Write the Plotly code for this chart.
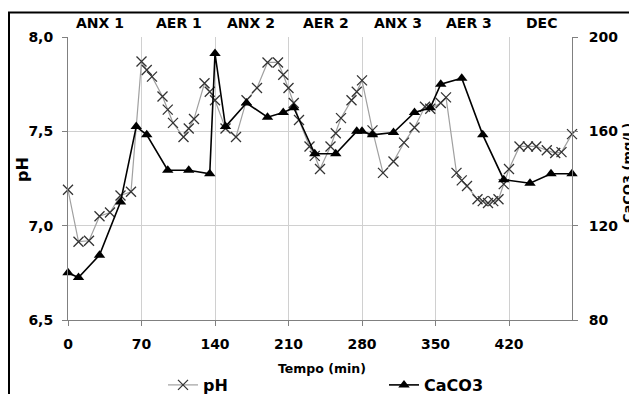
import plotly.graph_objects as go

# ---- data ----
ph_time = [0, 10, 20, 30, 40, 50, 60, 70, 75, 80, 90, 95, 100, 110, 115, 120, 130, 135, 140,
           150, 160, 170, 180, 190, 200, 205, 210, 215, 220, 230, 235, 240, 250, 255, 260, 270,
           275, 280, 290, 300, 310, 320, 330, 340, 345, 355, 360, 370, 375, 380, 390, 395, 400,
           405, 410, 415, 420, 430, 438, 446, 456, 464, 470, 480]
ph_vals = [7.19, 6.915, 6.92, 7.05, 7.07, 7.16, 7.18, 7.87, 7.825, 7.79, 7.685, 7.615, 7.545,
           7.47, 7.515, 7.565, 7.755, 7.71, 7.665,
           7.515, 7.47, 7.665, 7.73, 7.865, 7.865, 7.80, 7.73, 7.65, 7.56, 7.42, 7.37, 7.30,
           7.42, 7.49, 7.57, 7.665, 7.71, 7.77, 7.505, 7.28, 7.34, 7.44, 7.52, 7.63, 7.62,
           7.65, 7.68, 7.28, 7.24, 7.21, 7.14, 7.13, 7.12, 7.13, 7.14, 7.22, 7.30,
           7.42, 7.42, 7.42, 7.40, 7.385, 7.39, 7.485]

caco3_time = [0, 10, 30, 50, 65, 75, 95, 115, 135, 140, 150, 170, 190, 205, 215, 235, 255,
              275, 280, 290, 310, 330, 345, 355, 375, 395, 415, 440, 460, 480]
caco3_vals = [100, 98, 107.5, 130, 162, 158.5, 143.5, 143.5, 142, 193, 162, 172, 166, 168,
              170, 150.5, 150.5, 160, 160, 158.5, 159.5, 168, 170, 180, 182.5, 158.5, 139.5,
              138, 142, 142]

x_ticks = [0, 70, 140, 210, 280, 350, 420]
ph_ticks = [6.5, 7.0, 7.5, 8.0]
caco3_ticks = [80, 120, 160, 200]
phase_labels = ["ANX 1", "AER 1", "ANX 2", "AER 2", "ANX 3", "AER 3", "DEC"]
phase_centers = [30, 106, 174, 246, 314, 382, 451]

FONT = "DejaVu Sans"
AXC = "#808080"
GRID = "#d0d0d0"

fig = go.Figure()
fig.add_trace(go.Scatter(
    x=ph_time, y=ph_vals, name="pH", mode="lines+markers",
    line=dict(color="#a0a0a0", width=1.2),
    marker=dict(symbol="x-thin", size=10, color="#333333",
                line=dict(color="#333333", width=1.3)),
    cliponaxis=False, legend="legend"))
fig.add_trace(go.Scatter(
    x=caco3_time, y=caco3_vals, name="CaCO3", mode="lines+markers", yaxis="y2",
    line=dict(color="#000000", width=1.6),
    marker=dict(symbol="triangle-up", size=10, color="#000000"),
    cliponaxis=False, legend="legend2"))

# page has an 8px body margin: figure is offset by (8, 8) in the window
OFF = 8
W, H = 637 - OFF, 394 - OFF
PL, PR, PT, PB = 68, 572, 37, 320  # plot area in page pixels
L, T = PL - OFF, PT - OFF
R = W - (PR - OFF)
B = H - (PB - OFF)
pw, ph = PR - PL, PB - PT

def px_x(p):
    return (p - PL) / pw

def px_y(p):
    return 1 - (p - PT) / ph

tickfont = dict(family=FONT, size=14, color="#000", weight="bold")

fig.update_layout(
    width=W, height=H,
    margin=dict(l=L, r=R, t=T, b=B, autoexpand=False),
    paper_bgcolor="white", plot_bgcolor="white",
    separators=",.",
    xaxis=dict(range=[0, 480], tickvals=x_ticks, showgrid=True, gridcolor=GRID,
               gridwidth=1, showline=True, linecolor=AXC, linewidth=1,
               ticks="outside", ticklen=5, tickcolor=AXC, tickfont=tickfont,
               zeroline=False, ticklabelstandoff=6),
    yaxis=dict(range=[6.5, 8.0], tickvals=ph_ticks, tickformat=".1f", showgrid=True,
               gridcolor=GRID, gridwidth=1, showline=True, linecolor=AXC, linewidth=1,
               ticks="outside", ticklen=5, tickcolor=AXC, tickfont=tickfont,
               zeroline=False, ticklabelstandoff=6),
    yaxis2=dict(range=[80, 200], tickvals=caco3_ticks, overlaying="y", side="right",
                showgrid=False, showline=True, linecolor=AXC, linewidth=1,
                ticks="outside", ticklen=5, tickcolor=AXC, tickfont=tickfont,
                zeroline=False, ticklabelstandoff=8),
    legend=dict(x=px_x(163), y=px_y(385), xanchor="left", yanchor="middle",
                font=dict(family=FONT, size=16, color="#000", weight="bold"),
                bgcolor="rgba(0,0,0,0)"),
    legend2=dict(x=px_x(384), y=px_y(385), xanchor="left", yanchor="middle",
                 font=dict(family=FONT, size=16, color="#000", weight="bold"),
                 bgcolor="rgba(0,0,0,0)"),
    showlegend=True,
)

ann = []
for lab, c in zip(phase_labels, phase_centers):
    ann.append(dict(text=lab, x=c, xref="x", y=px_y(23), yref="paper", showarrow=False,
                    xanchor="center", yanchor="middle",
                    font=dict(family=FONT, size=14, color="#000", weight="bold")))
ann.append(dict(text="Tempo (min)", x=px_x(322), y=px_y(369), xref="paper", yref="paper",
                showarrow=False, xanchor="center", yanchor="middle",
                font=dict(family=FONT, size=12.5, color="#000", weight="bold")))
ann.append(dict(text="pH", x=px_x(22), y=px_y(170), xref="paper", yref="paper",
                showarrow=False, textangle=-90, xanchor="center", yanchor="middle",
                font=dict(family=FONT, size=16, color="#000", weight="bold")))
ann.append(dict(text="CaCO3 (mg/L)", x=px_x(627), y=px_y(173), xref="paper", yref="paper",
                showarrow=False, textangle=-90, xanchor="center", yanchor="middle",
                font=dict(family=FONT, size=13, color="#000", weight="bold")))
fig.update_layout(annotations=ann)

# outer frame of the original figure (cut off on right/bottom)
fig.add_shape(type="rect", xref="paper", yref="paper",
              x0=px_x(9), x1=px_x(660), y0=px_y(420), y1=px_y(12.5),
              line=dict(color="black", width=2), fillcolor="rgba(0,0,0,0)", layer="above")

fig.write_html("out.html")
